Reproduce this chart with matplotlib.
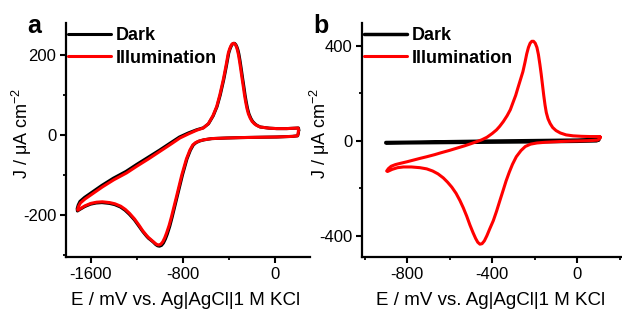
import matplotlib
matplotlib.use("Agg")
import matplotlib.pyplot as plt
from matplotlib.ticker import MultipleLocator

plt.rcParams['font.family'] = ['Liberation Sans', 'DejaVu Sans']
plt.rcParams['mathtext.default'] = 'regular'
plt.rcParams['axes.unicode_minus'] = False

# ---------------- Panel a data (E in mV, J in uA cm^-2) ----------------
# Illumination: cathodic branch (right -> left), then anodic branch (left -> right)
Ea_illum_down = [203, 200, 194, 150, 100, 14, -100, -200, -300, -420, -550, -620, -660, -690, -715,
                 -740, -770, -810, -855, -900, -920, -942, -958, -975, -992, -1010, -1025, -1040,
                 -1060, -1080, -1100, -1116, -1150, -1180, -1220, -1263, -1300, -1340, -1390,
                 -1435, -1500, -1550, -1600, -1650, -1690, -1712]
Ja_illum_down = [12, 4, -2, -3.5, -4, -5, -5.5, -6, -6.5, -7.5, -9, -12, -15, -19, -25,
                 -38, -60, -100, -153, -205, -226, -245, -257, -267, -273, -275, -274, -271,
                 -266, -261, -256, -251, -239, -226, -210, -196, -186, -178, -172,
                 -169, -167, -168, -171, -177, -184, -188]
Ea_illum_up = [-1714, -1705, -1690, -1650, -1580, -1500, -1400, -1290, -1200, -1100, -1000, -900,
               -826, -750, -680, -623, -580, -540, -507, -480, -450, -437, -425, -415, -406, -395,
               -385, -375, -365, -355, -345, -335, -327, -319, -310, -300, -288, -276, -265, -255,
               -244, -232, -216, -200, -180, -160, -130, -50, 14, 100, 170, 200, 203]
Ja_illum_up = [-186, -178, -170, -160, -146, -130, -112, -95, -78, -60, -41, -22,
               -7.5, 3, 12, 17.5, 28, 48, 71, 100, 138, 157, 175, 191, 205, 215,
               222, 227, 229, 229, 226, 220, 212, 202, 187, 168, 144, 121, 99, 82,
               66, 53, 42, 34, 28, 24, 20, 17, 16, 16, 17, 17.5, 12]

# Dark (almost identical, slightly offset)
Ea_dark_down = [205, 202, 196, 150, 100, 14, -100, -200, -300, -420, -550, -615, -655, -685, -710,
                -735, -765, -804, -849, -894, -914, -936, -952, -969, -986, -1004, -1020, -1036,
                -1057, -1078, -1100, -1116, -1150, -1182, -1222, -1266, -1303, -1343, -1393,
                -1438, -1503, -1553, -1603, -1653, -1694, -1716]
Ja_dark_down = [12, 4, -2, -3.5, -4, -5, -5.5, -6, -6.5, -7.5, -9, -12, -15, -19, -25,
                -38, -60, -100, -153, -206, -228, -248, -260, -270, -276, -278, -277, -274,
                -268, -263, -258, -253, -241, -228, -212, -198, -188, -180, -174,
                -171, -169, -170, -173, -179, -186, -190]
Ea_dark_up = [-1718, -1709, -1694, -1654, -1584, -1504, -1404, -1294, -1204, -1104, -1004, -904,
              -830, -754, -682, -623, -578, -537, -504, -476, -446, -433, -421, -411, -402, -391,
              -381, -371, -361, -351, -341, -331, -322, -314, -305, -295, -283, -271, -260, -250,
              -239, -227, -211, -195, -175, -157, -128, -50, 14, 100, 172, 203, 206]
Ja_dark_up = [-184, -175, -166, -156, -142, -126, -108, -91, -74, -56, -38, -19,
              -5, 5, 13, 18, 28, 48, 71, 100, 138, 157, 175, 191, 205, 215,
              222, 227, 229, 229, 226, 220, 212, 202, 187, 168, 144, 121, 99, 82,
              66, 53, 42, 34, 28, 24, 20, 17, 16, 16, 17, 17.5, 12]

# ---------------- Panel b data ----------------
Eb_illum_down = [108, 105, 95, 60, 20, -30, -84, -150, -190, -220, -245, -265, -287, -305, -320,
                 -335, -349, -365, -380, -395, -412, -425, -437, -448, -458, -468, -478, -490,
                 -505, -520, -536, -552, -570, -590, -610, -630, -655, -680, -708, -740, -780,
                 -817, -845, -870, -892]
Jb_illum_down = [14, 8, 2, 0, -1, -2, -4, -7, -10, -15, -25, -42, -68, -100, -133,
                 -170, -210, -255, -298, -337, -372, -400, -422, -434, -436, -428, -412, -388,
                 -355, -318, -283, -252, -222, -196, -175, -157, -140, -128, -119, -114, -111,
                 -111, -114, -121, -130]
Eb_illum_up = [-896, -888, -875, -855, -833, -800, -770, -740, -708, -670, -640, -600, -567, -530,
               -500, -475, -450, -425, -400, -380, -365, -348, -330, -315, -303, -290, -280, -268,
               -256, -246, -238, -230, -222, -214, -206, -198, -190, -183, -176, -170, -164, -158,
               -152, -146, -138, -128, -116, -100, -80, -53, -20, 20, 60, 90, 106, 108]
Jb_illum_up = [-128, -118, -108, -101, -96, -89, -82, -75, -68, -59, -51, -41, -32, -22,
               -13, -5, 3, 14, 30, 45, 60, 80, 105, 130, 159, 190, 220, 255,
               290, 330, 365, 392, 410, 418, 418, 410, 392, 362, 320, 280, 235, 190,
               150, 118, 92, 72, 55, 42, 32, 24, 20, 18, 17, 17, 17, 14]

Eb_dark_down = [100, 90, 0, -200, -400, -600, -800, -900]
Jb_dark_down = [3, -1, -3, -5, -6.5, -8, -9.5, -10]
Eb_dark_up = [-900, -800, -600, -400, -200, 0, 80, 100]
Jb_dark_up = [-8, -7, -4.5, -2, 0, 2, 5, 3]

labels = ["Dark", "Illumination"]

fig = plt.figure(figsize=(6.22, 3.09), dpi=100)
W, H = 622, 309

def make_ax(l, r, b, t):
    return fig.add_axes([l / W, 1 - b / H, (r - l) / W, (b - t) / H])

axa = make_ax(66, 310, 257, 23)
axb = make_ax(362, 621, 257, 23)

lw = 2.2
kw = dict(solid_joinstyle='round', solid_capstyle='round')
axa.plot(Ea_dark_down + Ea_dark_up, Ja_dark_down + Ja_dark_up, color='black', lw=lw, label=labels[0], **kw)
axa.plot(Ea_illum_down + Ea_illum_up, Ja_illum_down + Ja_illum_up, color='#ff0000', lw=lw, label=labels[1], **kw)
axb.plot(Eb_dark_down + Eb_dark_up, Jb_dark_down + Jb_dark_up, color='black', lw=lw + 0.3, label=labels[0], **kw)
axb.plot(Eb_illum_down + Eb_illum_up, Jb_illum_down + Jb_illum_up, color='#ff0000', lw=lw, label=labels[1], **kw)

axa.set_xlim(-1815, 303)
axa.set_ylim(-305, 280)
axa.xaxis.set_major_locator(MultipleLocator(800))
axa.xaxis.set_minor_locator(MultipleLocator(400))
axa.yaxis.set_major_locator(MultipleLocator(200))
axa.yaxis.set_minor_locator(MultipleLocator(100))

axb.set_xlim(-1012, 205)
axb.set_ylim(-490, 495)
axb.xaxis.set_major_locator(MultipleLocator(400))
axb.xaxis.set_minor_locator(MultipleLocator(200))
axb.yaxis.set_major_locator(MultipleLocator(400))
axb.yaxis.set_minor_locator(MultipleLocator(200))

for ax in (axa, axb):
    for s in ('top', 'right'):
        ax.spines[s].set_visible(False)
    for s in ('left', 'bottom'):
        ax.spines[s].set_linewidth(1.6)
    ax.tick_params(which='major', direction='out', length=4, width=1.5, labelsize=12, pad=3)
    ax.tick_params(which='minor', direction='out', length=2.5, width=1.3)
    ax.set_facecolor('none')
    ax.legend(loc='upper left', bbox_to_anchor=(0.0, 0.99), frameon=False,
              prop={'weight': 'bold', 'size': 13}, handlelength=2.4,
              handletextpad=0.25, labelspacing=0.3, borderaxespad=0.0, borderpad=0.1)

xlabel = "E / mV vs. Ag|AgCl|1 M KCl"
ylabel = r"J / μA cm$^{-2}$"
fig.text(186 / W, 1 - 305 / H, xlabel, ha='center', va='baseline', fontsize=13.5)
fig.text(491 / W, 1 - 305 / H, xlabel, ha='center', va='baseline', fontsize=13.5)
fig.text(22 / W, 1 - 133 / H, ylabel, ha='center', va='center', rotation=90, fontsize=13)
fig.text(320 / W, 1 - 133 / H, ylabel, ha='center', va='center', rotation=90, fontsize=13)
fig.text(27 / W, 1 - 33 / H, "a", ha='left', va='baseline', fontsize=18, fontweight='bold')
fig.text(313 / W, 1 - 33 / H, "b", ha='left', va='baseline', fontsize=18, fontweight='bold')

fig.savefig("out.png", dpi=100)
